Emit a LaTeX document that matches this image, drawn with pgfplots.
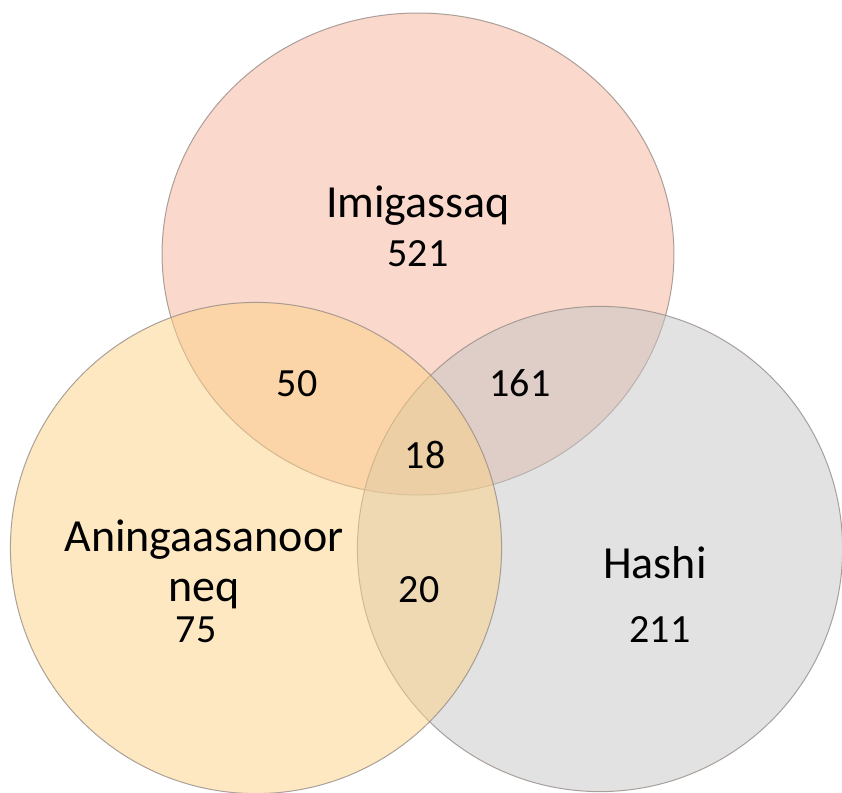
\documentclass[border=0pt]{standalone}
\usepackage{pgfplots}
\pgfplotsset{compat=1.18}
\usepackage{fontspec}
\setmainfont{Carlito}

% region fills (base colours, drawn half transparent)
\definecolor{imiFill}{RGB}{245,177,151}
\definecolor{aniFill}{RGB}{253,209,133}
\definecolor{hasFill}{RGB}{197,197,197}
\definecolor{edge}{RGB}{150,140,135}

\tikzset{
  num/.style={font=\fontsize{20}{24}\selectfont, anchor=base, text=black, inner sep=0pt},
  word/.style={font=\fontsize{23}{28}\selectfont, anchor=base, text=black, inner sep=0pt},
}

\begin{document}
\begin{tikzpicture}
\begin{axis}[
    width=421pt, height=396.5pt,
    scale only axis,
    xmin=0, xmax=842,
    ymin=0, ymax=793,
    y dir=reverse,
    hide axis,
    clip=false,
]
% Imigassaq (slightly wider than tall)
\addplot[only marks, mark=*, mark size=120.5pt,
    mark options={xscale=1.062, fill=imiFill, fill opacity=0.5, draw=edge, draw opacity=0.8, line width=0.5pt}]
    coordinates {(418,254)};
% Hashi
\addplot[only marks, mark=*, mark size=121.3pt,
    mark options={fill=hasFill, fill opacity=0.5, draw=edge, draw opacity=0.8, line width=0.5pt}]
    coordinates {(600,549)};
% Aningaasanoorneq
\addplot[only marks, mark=*, mark size=122.8pt,
    mark options={fill=aniFill, fill opacity=0.5, draw=edge, draw opacity=0.8, line width=0.5pt}]
    coordinates {(256,548)};

% label anchors, text is set after the axis so it sits above the circles
\coordinate (tImi)  at (axis cs:418,218);
\coordinate (nImi)  at (axis cs:418,267);
\coordinate (nIA)   at (axis cs:297,397);
\coordinate (nIH)   at (axis cs:520,397);
\coordinate (nAll)  at (axis cs:425,469);
\coordinate (tAni1) at (axis cs:204,552);
\coordinate (tAni2) at (axis cs:204,602);
\coordinate (nAni)  at (axis cs:196,643);
\coordinate (nAH)   at (axis cs:419,603);
\coordinate (tHas)  at (axis cs:655,579);
\coordinate (nHas)  at (axis cs:660,643);
\end{axis}
\node[word] at (tImi)  {Imigassaq};
\node[num]  at (nImi)  {521};
\node[num]  at (nIA)   {50};
\node[num]  at (nIH)   {161};
\node[num]  at (nAll)  {18};
\node[word] at (tAni1) {Aningaasanoor};
\node[word] at (tAni2) {neq};
\node[num]  at (nAni)  {75};
\node[num]  at (nAH)   {20};
\node[word] at (tHas)  {Hashi};
\node[num]  at (nHas)  {211};
\pgfresetboundingbox
\path (current axis.south west) rectangle (current axis.north east);
\end{tikzpicture}
\end{document}
